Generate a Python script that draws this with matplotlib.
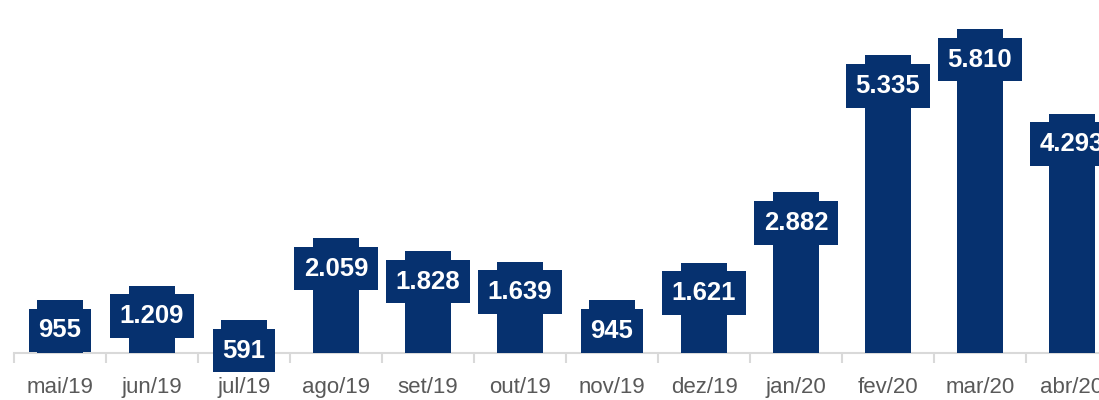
import matplotlib
matplotlib.use("Agg")
import matplotlib.pyplot as plt

months = ["mai/19", "jun/19", "jul/19", "ago/19", "set/19", "out/19",
          "nov/19", "dez/19", "jan/20", "fev/20", "mar/20", "abr/20"]
values = [955, 1209, 591, 2059, 1828, 1639, 945, 1621, 2882, 5335, 5810, 4293]

navy = "#06316f"

fig = plt.figure(figsize=(10.99, 4.0), dpi=100)
# axes runs past the right edge on purpose (last bar is cut in the original)
ax = fig.add_axes([14 / 1099, 47 / 400, 1104 / 1099, 353 / 400])

x = list(range(len(values)))
ax.bar(x, values, width=0.5, color=navy, zorder=2)

for xi, v in zip(x, values):
    txt = f"{v:,}".replace(",", ".")
    ax.annotate(txt, (xi, v), xytext=(0, -22), textcoords="offset points",
                ha="center", va="center", fontsize=18.5, fontweight="bold",
                family="Liberation Sans", color="white", zorder=3,
                bbox=dict(boxstyle="square,pad=0.38", fc=navy, ec="none"),
                annotation_clip=False)

ax.set_xlim(-0.5, len(values) - 0.5)
ax.set_ylim(0, 6330)

ax.set_xticks(x)
ax.set_xticklabels(months, fontsize=16, color="#595959", family="Liberation Sans")
ax.set_xticks([i - 0.5 for i in range(len(values) + 1)], minor=True)
ax.tick_params(axis="x", which="major", length=0, pad=17)
ax.tick_params(axis="x", which="minor", length=7, width=1.5, color="#d9d9d9")
ax.set_yticks([])

for s in ["top", "right", "left"]:
    ax.spines[s].set_visible(False)
ax.spines["bottom"].set_color("#d9d9d9")
ax.spines["bottom"].set_linewidth(1.5)
ax.spines["bottom"].set_zorder(1)

fig.savefig("out.png", dpi=100)
